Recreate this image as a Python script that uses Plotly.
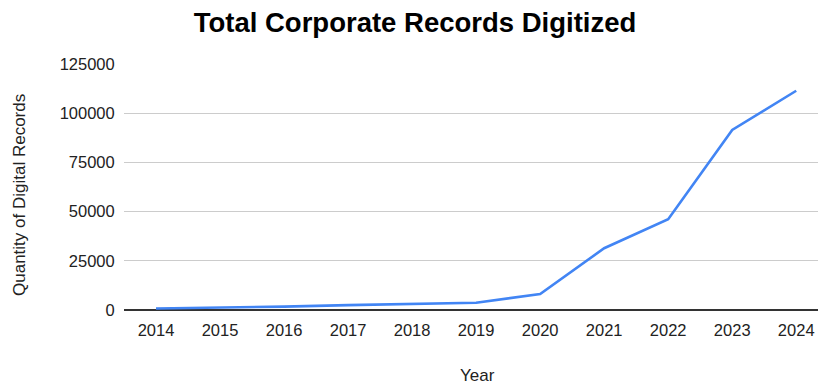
import plotly.graph_objects as go

years = ["2014", "2015", "2016", "2017", "2018", "2019", "2020", "2021", "2022", "2023", "2024"]
records = [800, 1100, 1700, 2500, 3000, 3700, 8100, 31400, 46100, 91500, 111400]
y_ticks = [0, 25000, 50000, 75000, 100000, 125000]

FONT = "Liberation Sans, Arial, sans-serif"

fig = go.Figure()
fig.add_trace(go.Scatter(
    x=list(range(len(years))),
    y=records,
    mode="lines",
    line=dict(color="#4285F4", width=2.6),
    hoverinfo="x+y",
))

fig.update_layout(
    width=818,
    height=385,
    margin=dict(l=124, r=0, t=64, b=75),
    paper_bgcolor="white",
    plot_bgcolor="white",
    showlegend=False,
    title=dict(
        text="<b>Total Corporate Records Digitized</b>",
        x=415 / 818, xanchor="center",
        y=1 - 22 / 385, yanchor="middle",
        font=dict(family=FONT, size=27.5, color="#000000"),
    ),
    xaxis=dict(
        range=[-0.5, 10.34],
        tickmode="array",
        tickvals=list(range(len(years))),
        ticktext=years,
        showgrid=False,
        zeroline=False,
        showline=False,
        ticks="outside",
        ticklen=5,
        tickcolor="rgba(0,0,0,0)",
        tickfont=dict(family=FONT, size=16.5, color="#222222"),
    ),
    yaxis=dict(
        range=[0, 125000],
        tickmode="array",
        tickvals=y_ticks,
        ticktext=[str(v) for v in y_ticks],
        showgrid=True,
        gridcolor="#cccccc",
        gridwidth=1,
        zeroline=True,
        zerolinecolor="#333333",
        zerolinewidth=1.5,
        showline=False,
        ticks="outside",
        ticklen=5,
        tickcolor="rgba(0,0,0,0)",
        tickfont=dict(family=FONT, size=16.5, color="#222222"),
    ),
    annotations=[
        dict(
            text="Year", xref="paper", yref="paper",
            x=(477 - 124) / 694, y=-(375 - 310) / 246,
            xanchor="center", yanchor="middle", showarrow=False,
            font=dict(family=FONT, size=17, color="#222222"),
        ),
        dict(
            text="Quantity of Digital Records", xref="paper", yref="paper",
            x=-(124 - 19) / 694, y=(310 - 195) / 246,
            xanchor="center", yanchor="middle", showarrow=False, textangle=-90,
            font=dict(family=FONT, size=17, color="#222222"),
        ),
    ],
)

fig.write_html("out.html")
